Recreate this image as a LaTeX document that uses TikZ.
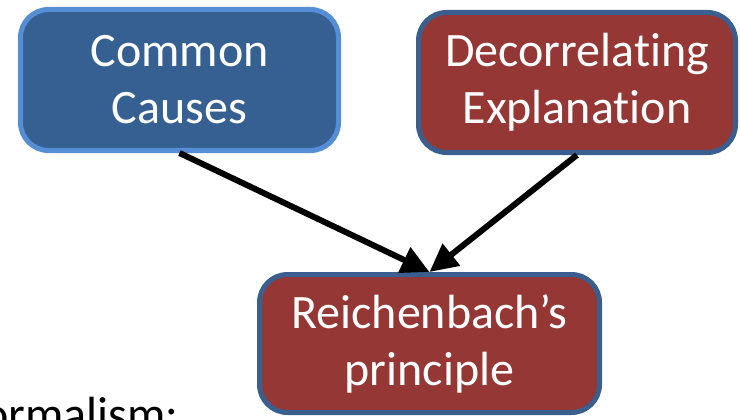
\documentclass[tikz,border=0pt]{standalone}
\usepackage{fontspec}
\setmainfont{Carlito}[Ligatures=NoCommon]
\usetikzlibrary{arrows.meta}
\definecolor{boxblue}{HTML}{376092}
\definecolor{lightedge}{HTML}{558ED5}
\definecolor{boxred}{HTML}{953735}
\definecolor{darkedge}{HTML}{3A5F8E}
\begin{document}
\begin{tikzpicture}[x=1pt,y=-1pt,
  box/.style={rounded corners=28pt, line width=5pt, text=white, align=center,
    font=\fontsize{48}{57}\selectfont, inner sep=0pt},
  bluebox/.style={box, fill=boxblue, draw=lightedge},
  redbox/.style={box, fill=boxred, draw=darkedge},
  link/.style={line width=6pt, -{Triangle[length=28pt,width=27pt]}}]
\useasboundingbox (0,0) rectangle (740,420);
\clip (0,0) rectangle (740,420);
\node[bluebox, minimum width=318pt, minimum height=141pt] (cc) at (179.5,80)
  {Common\\Causes};
\node[redbox, minimum width=317pt, minimum height=140pt] (dc) at (577,82.5)
  {Decorrelating\\Explanation};
\node[redbox, minimum width=340pt, minimum height=138pt] (rp) at (429.5,343.5)
  {Reichenbach’s\\principle};
\node[anchor=base east, inner sep=0pt, font=\fontsize{48}{57}\selectfont] (fm) at (179,430) {Formalism:};
\draw[link] (cc.south) -- (rp.north);
\draw[link] (dc.south) -- (rp.north);
\end{tikzpicture}
\end{document}
